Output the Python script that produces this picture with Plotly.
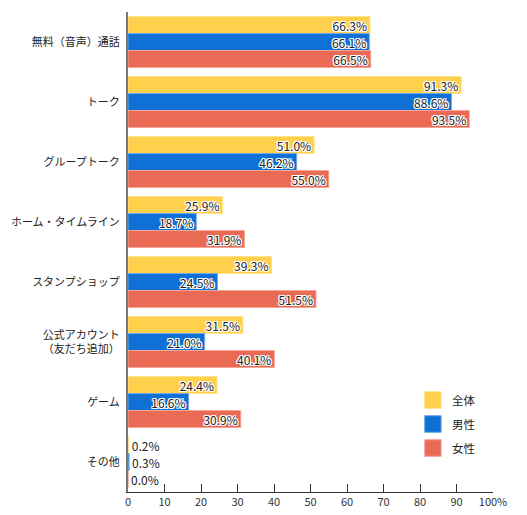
import plotly.graph_objects as go

categories = ["無料（音声）通話", "トーク", "グループトーク", "ホーム・タイムライン",
              "スタンプショップ", "公式アカウント<br>（友だち追加）", "ゲーム", "その他"]
series_names = ["全体", "男性", "女性"]
all_vals = [66.3, 91.3, 51.0, 25.9, 39.3, 31.5, 24.4, 0.2]
male_vals = [66.1, 88.6, 46.2, 18.7, 24.5, 21.0, 16.6, 0.3]
female_vals = [66.5, 93.5, 55.0, 31.9, 51.5, 40.1, 30.9, 0.0]
tick_vals = [0, 10, 20, 30, 40, 50, 60, 70, 80, 90, 100]
tick_text = ["0", "10", "20", "30", "40", "50", "60", "70", "80", "90", "100%"]

colors = ["#FFD04C", "#0F70D6", "#E96A55"]
edge_colors = ["#FFE48E", "#6FA8EA", "#F4A699"]
FONT = "Noto Sans CJK JP, sans-serif"
shadow = "1px 1px 0 #fff, -1px -1px 0 #fff, 1px -1px 0 #fff, -1px 1px 0 #fff, 0 1px 0 #fff, 0 -1px 0 #fff, 1px 0 0 #fff, -1px 0 0 #fff"

fig = go.Figure()
for name, vals, c, ec in zip(series_names, [all_vals, male_vals, female_vals], colors, edge_colors):
    fig.add_trace(go.Bar(
        y=categories, x=vals, name=name, orientation="h",
        marker=dict(color=c, line=dict(color=ec, width=1)),
        text=[f"{v:.1f}%" for v in vals],
        textposition=["inside" if v > 5 else "outside" for v in vals],
        insidetextanchor="end",
        constraintext="none",
        textfont=dict(family=FONT, size=12, color="#222", shadow=shadow),
        outsidetextfont=dict(family=FONT, size=12, color="#222"),
        cliponaxis=False,
        showlegend=False,
        hoverinfo="skip",
    ))

# legend drawn as squares + labels
legend_y = [400, 424, 448]
for name, c, ec, yy in zip(series_names, colors, edge_colors, legend_y):
    fig.add_shape(type="rect", xref="paper", yref="paper",
                  x0=(425 - 127.5) / 366, x1=(441.5 - 127.5) / 366,
                  y0=(492 - (yy + 8.3)) / 480, y1=(492 - (yy - 8.3)) / 480,
                  fillcolor=c, line=dict(color=ec, width=1))
    fig.add_annotation(xref="paper", yref="paper", x=(450 - 127.5) / 366,
                       y=(492 - yy) / 480, text=name, showarrow=False,
                       xanchor="left", yanchor="middle",
                       font=dict(family=FONT, size=11.5, color="#222"))

fig.update_layout(
    width=527, height=515,
    margin=dict(l=127.5, r=33.7, t=12, b=23),
    barmode="group", bargap=0.15, bargroupgap=0,
    plot_bgcolor="white", paper_bgcolor="white",
    font=dict(family=FONT, size=11, color="#222"),
)
fig.update_xaxes(range=[0, 100], tickvals=tick_vals, ticktext=tick_text,
                 showgrid=False, zeroline=False, showline=True, linecolor="#333",
                 linewidth=1, ticks="inside", ticklen=8, tickcolor="#333",
                 automargin=False,
                 tickfont=dict(family=FONT, size=11, color="#333"))
fig.update_yaxes(autorange="reversed", showgrid=False, showline=True,
                 linecolor="#777", linewidth=2, ticks="", ticklabelstandoff=4,
                 automargin=False,
                 tickfont=dict(family=FONT, size=11, color="#222"))

fig.write_html("out.html", config={"displayModeBar": False},
               post_script="document.body.style.margin='0px';document.body.style.overflow='hidden';")
